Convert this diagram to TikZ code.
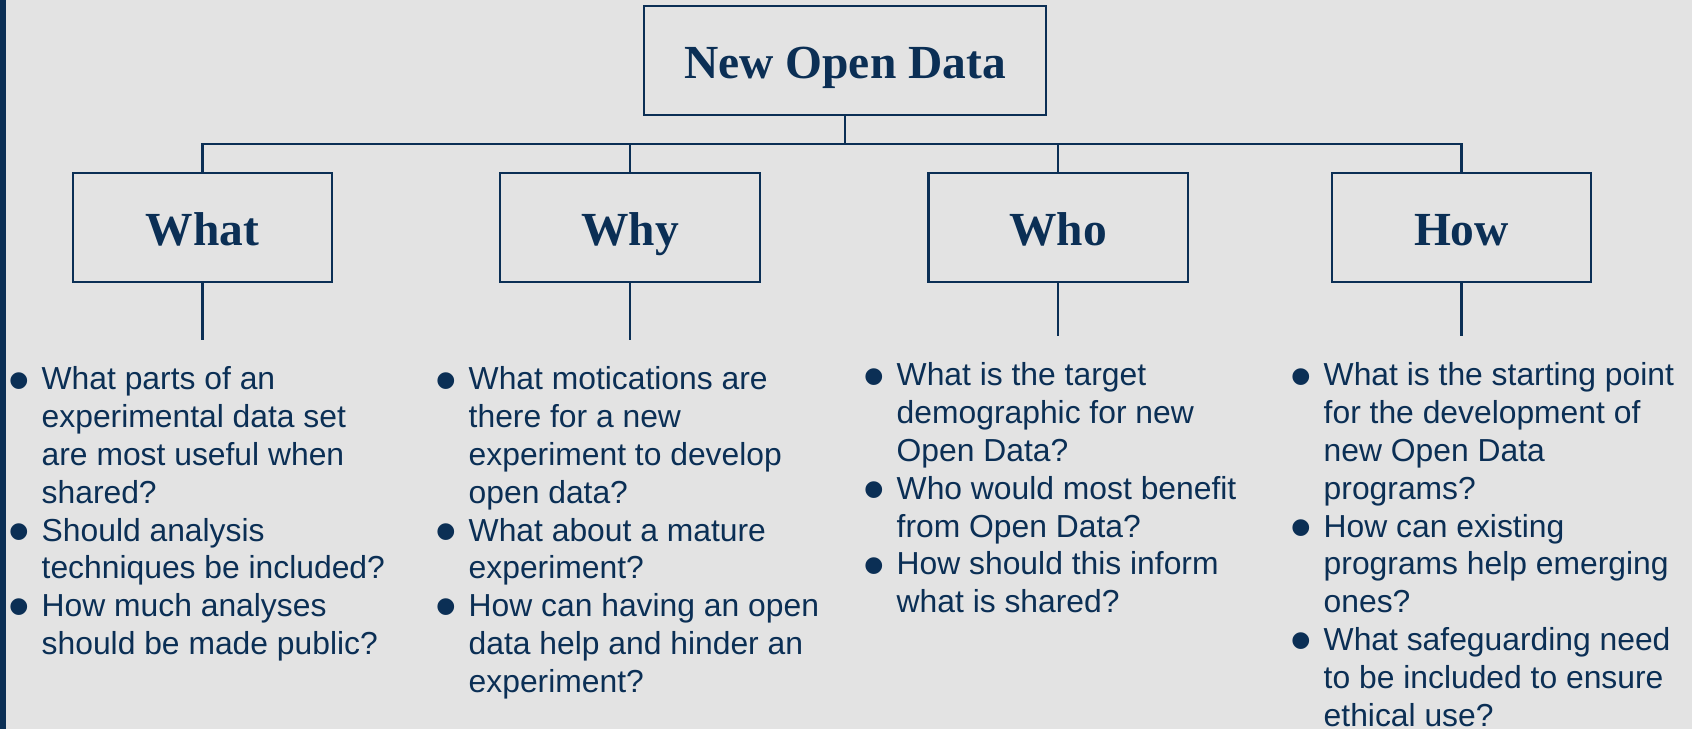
\documentclass[tikz,border=0pt]{standalone}
\usepackage{fontspec}
\setmainfont{Liberation Serif}
\setsansfont{Liberation Sans}
\definecolor{navy}{HTML}{0B2F55}
\definecolor{paper}{HTML}{E3E3E3}
\newcommand{\qb}{\llap{\makebox[0.33cm][l]{\fontsize{17.5}{1}\selectfont\raisebox{-3.2pt}{•}}}}

\begin{document}
\begin{tikzpicture}[x=0.01cm,y=-0.01cm,
  topbox/.style={draw=navy,line width=0.6pt,text=navy,inner sep=0pt,minimum width=4.02cm,minimum height=1.09cm,text height=10pt,text depth=0pt,font=\fontsize{13.5}{16}\selectfont\bfseries},
  catbox/.style={topbox,minimum width=2.59cm},
  qlist/.style={anchor=north west,align=left,inner sep=0pt,text=navy,font=\sffamily\fontsize{9.05}{10.75}\selectfont},
  link/.style={draw=navy,line width=0.6pt}]
	\fill[paper] (0,0) rectangle (1692,729);
	\fill[navy] (0,0) rectangle (6,729);
	\useasboundingbox (0,0) rectangle (1692,729);
	\node[topbox] (top) at (845,60.5) {New Open Data};
	\node[catbox] (what) at (202.5,227.5) {What};
	\node[catbox] (why) at (630,227.5) {Why};
	\node[catbox] (who) at (1058,227.5) {Who};
	\node[catbox] (how) at (1461.5,227.5) {How};
	\coordinate (bar) at (845,144);
	\draw[link] (top.south) -- (bar);
	\draw[link] (what.north) |- (how.north |- bar) -- (how.north);
	\draw[link] (why.north) -- (why.north |- bar);
	\draw[link] (who.north) -- (who.north |- bar);
	\coordinate (whatend) at (202.5,340);
	\coordinate (whyend) at (630,340);
	\coordinate (whoend) at (1058,336);
	\coordinate (howend) at (1461.5,336);
	\draw[link] (what.south) -- (whatend);
	\draw[link] (why.south) -- (whyend);
	\draw[link] (who.south) -- (whoend);
	\draw[link] (how.south) -- (howend);
	% questions under each box
	\node[qlist] (whatq) at (41,366) {\qb What parts of an\\experimental data set\\are most useful when\\shared?\\
		\qb Should analysis\\techniques be included?\\
		\qb How much analyses\\should be made public?};
	\node[qlist] (whyq) at (468,366) {\qb What motications are\\there for a new\\experiment to develop\\open data?\\
		\qb What about a mature\\experiment?\\
		\qb How can having an open\\data help and hinder an\\experiment?};
	\node[qlist] (whoq) at (896,362) {\qb What is the target\\demographic for new\\Open Data?\\
		\qb Who would most benefit\\from Open Data?\\
		\qb How should this inform\\what is shared?};
	\node[qlist] (howq) at (1323,362) {\qb What is the starting point\\for the development of\\new Open Data\\programs?\\
		\qb How can existing\\programs help emerging\\ones?\\
		\qb What safeguarding need\\to be included to ensure\\ethical use?};
\end{tikzpicture}
\end{document}
